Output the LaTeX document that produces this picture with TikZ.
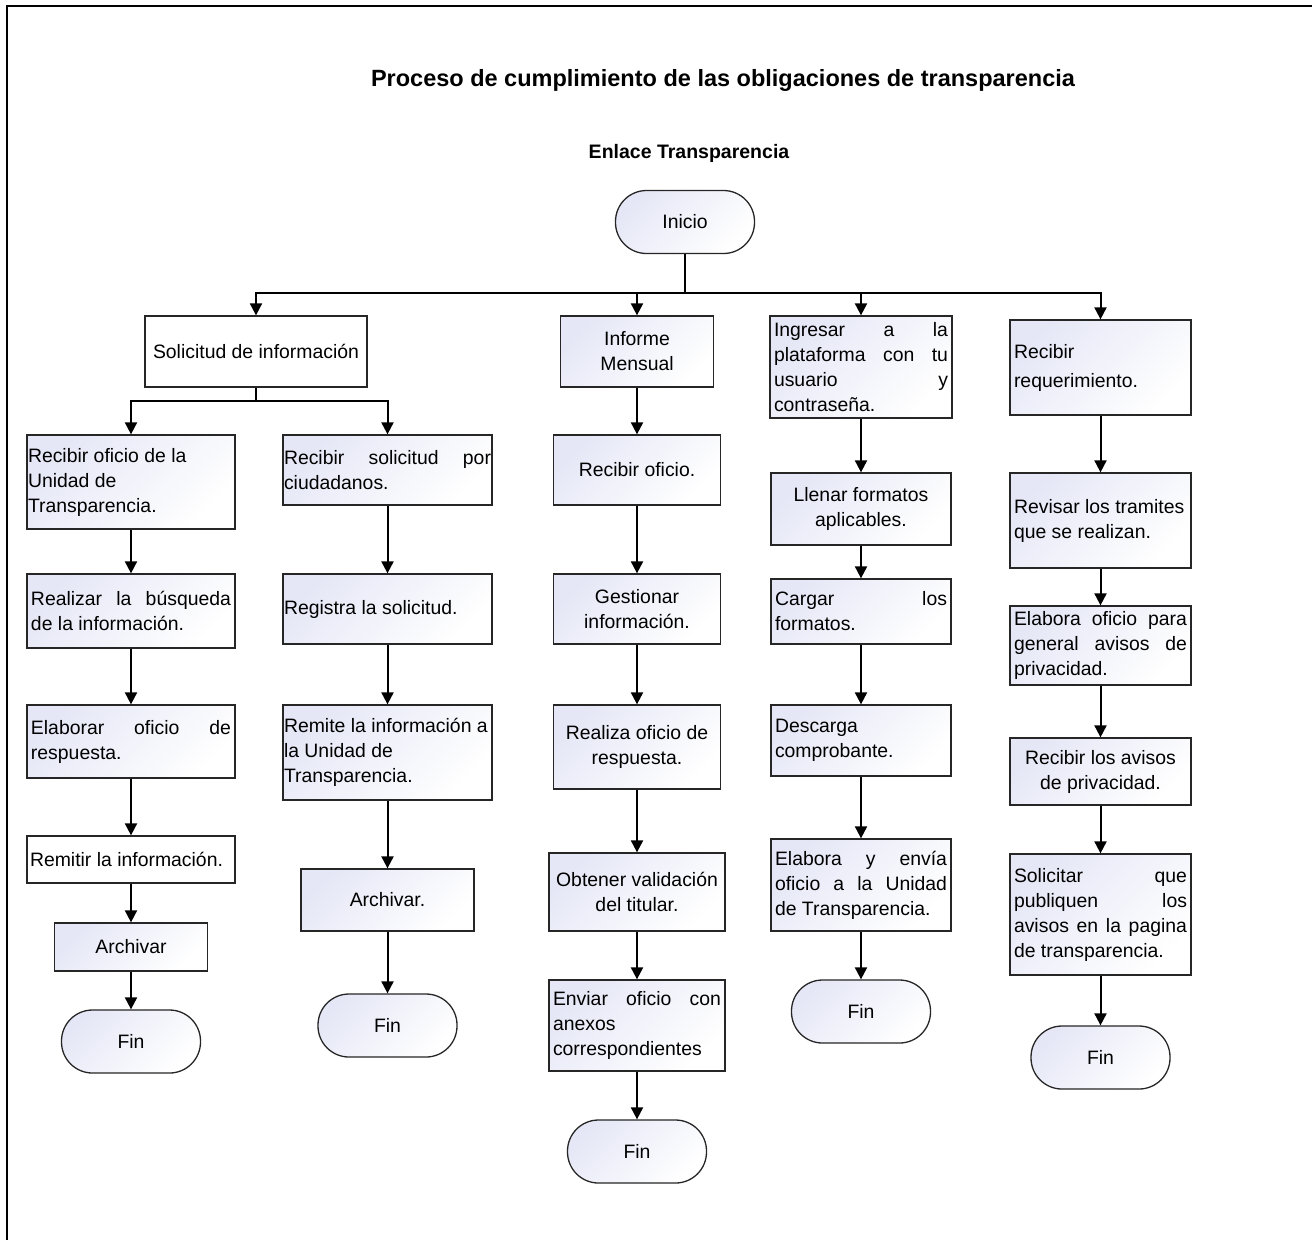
\documentclass[tikz,border=0pt]{standalone}
\usepackage{fontspec}
\setmainfont{Liberation Sans}
\usetikzlibrary{arrows.meta}
\definecolor{boxfill}{RGB}{229,231,246}
\newcommand\bodyfont{\fontsize{9.7pt}{12.5pt}\selectfont}
\newcommand\jl[1]{\makebox[\hsize][s]{#1}}

\begin{document}
\begin{tikzpicture}[x=0.5pt,y=-0.5pt,
        boxline/.style={draw=black!85,line width=0.65pt,inner xsep=2pt,inner ysep=0pt,font=\bodyfont},
        proc/.style={boxline,top color=boxfill,bottom color=white,shading angle=45},
        plainbox/.style={boxline,fill=white},
        term/.style={proc,rounded corners=15.5pt,minimum width=69.5pt,minimum height=31.5pt},
        link/.style={line width=1pt,-{Triangle[length=6pt,width=6pt]}}]
        \useasboundingbox (0,0) rectangle (1312,1239);
        \draw[line width=1.2pt] (7,1260) -- (7,6) -- (1330,6);
        \node[font=\fontsize{11.75pt}{14pt}\selectfont\bfseries] (title) at (723,80) {Proceso de cumplimiento de las obligaciones de transparencia};
        \node[font=\fontsize{9.75pt}{12pt}\selectfont\bfseries] (lane) at (689,153) {Enlace Transparencia};
        % inicio y primer nivel
        \node[term] (inicio) at (685,222) {Inicio};
        \node[plainbox,text width=107pt,minimum height=35.5pt,align=flush center] (sol) at (256,351.5) {Solicitud de información};
        \node[proc,text width=72.5pt,minimum height=35.5pt,align=flush center] (c0) at (637,351.5) {Informe\\Mensual};
        \node[proc,text width=87pt,minimum height=51pt,align=flush left] (d0) at (861,367) {\jl{Ingresar a la}\\\jl{plataforma con tu}\\\jl{usuario y}\\contraseña.};
        \node[proc,text width=86.5pt,minimum height=47.5pt,align=flush left] (e0) at (1100.5,367.5) {Recibir\\[2pt]requerimiento.};
        % columna a
        \node[proc,inner xsep=0.5pt,text width=103pt,minimum height=47pt,align=flush left] (a1) at (131,482) {Recibir oficio de la\\Unidad de\\Transparencia.};
        \node[proc,text width=100pt,minimum height=37pt,align=flush left] (a2) at (131,611) {\jl{Realizar la búsqueda}\\de la información.};
        \node[proc,text width=100pt,minimum height=36.5pt,align=flush left] (a3) at (131,741.5) {\jl{Elaborar oficio de}\\respuesta.};
        \node[plainbox,inner xsep=1.5pt,text width=101pt,minimum height=23.5pt,align=flush left] (a4) at (131,859.5) {Remitir la información.};
        \node[proc,text width=72.5pt,minimum height=24pt,align=flush center] (a5) at (131,947) {Archivar};
        \node[term] (a6) at (131,1041.5) {Fin};
        % columna b
        \node[proc,inner xsep=0.5pt,text width=103.5pt,minimum height=35pt,align=flush left] (b1) at (387.5,470) {\jl{Recibir solicitud por}\\ciudadanos.};
        \node[proc,inner xsep=0.5pt,text width=103.5pt,minimum height=35pt,align=flush left] (b2) at (387.5,609) {Registra la solicitud.};
        \node[proc,inner xsep=0.5pt,text width=103.5pt,minimum height=47.5pt,align=flush left] (b3) at (387.5,752.5) {Remite la información a\\la Unidad de\\Transparencia.};
        \node[proc,text width=82.5pt,minimum height=31pt,align=flush center] (b4) at (387.5,900) {Archivar.};
        \node[term] (b5) at (387.5,1025.5) {Fin};
        % columna c
        \node[proc,text width=79.5pt,minimum height=35pt,align=flush center] (c1) at (637,470) {Recibir oficio.};
        \node[proc,text width=79.5pt,minimum height=35pt,align=flush center] (c2) at (637,609) {Gestionar\\información.};
        \node[proc,text width=79.5pt,minimum height=42pt,align=flush center] (c3) at (637,747) {Realiza oficio de\\respuesta.};
        \node[proc,text width=84pt,minimum height=39pt,align=flush center] (c4) at (637,892) {Obtener validación\\del titular.};
        \node[proc,text width=84pt,minimum height=45.5pt,align=flush left] (c5) at (637,1025.5) {\jl{Enviar oficio con}\\anexos\\correspondientes};
        \node[term] (c6) at (637,1151.5) {Fin};
        % columna d
        \node[proc,text width=86pt,minimum height=36pt,align=flush center] (d1) at (861,509) {Llenar formatos\\aplicables.};
        \node[proc,text width=86pt,minimum height=32.5pt,align=flush left] (d2) at (861,611.5) {\jl{Cargar los}\\formatos.};
        \node[proc,text width=86pt,minimum height=35.5pt,align=flush left] (d3) at (861,740.5) {Descarga\\comprobante.};
        \node[proc,text width=86pt,minimum height=46pt,align=flush left] (d4) at (861,885) {\jl{Elabora y envía}\\\jl{oficio a la Unidad}\\de Transparencia.};
        \node[term] (d5) at (861,1011.5) {Fin};
        % columna e
        \node[proc,text width=86.5pt,minimum height=47.5pt,align=flush left] (e1) at (1100.5,520.5) {Revisar los tramites\\que se realizan.};
        \node[proc,text width=86.5pt,minimum height=39.5pt,align=flush left] (e2) at (1100.5,645.5) {\jl{Elabora oficio para}\\\jl{general avisos de}\\privacidad.};
        \node[proc,text width=86.5pt,minimum height=33.5pt,align=flush center] (e3) at (1100.5,771.5) {Recibir los avisos\\de privacidad.};
        \node[proc,text width=86.5pt,minimum height=60.5pt,align=flush left] (e4) at (1100.5,914.5) {\jl{Solicitar que}\\\jl{publiquen los}\\\jl{avisos en la pagina}\\de transparencia.};
        \node[term] (e5) at (1100.5,1057.5) {Fin};
        % conectores
        \coordinate (bus) at (685,293);
        \coordinate (solbus) at (256,401);
        \draw[link] (inicio.south) -- (inicio.south |- bus) -| (sol.north);
        \draw[link] (inicio.south) -- (inicio.south |- bus) -| (c0.north);
        \draw[link] (inicio.south) -- (inicio.south |- bus) -| (d0.north);
        \draw[link] (inicio.south) -- (inicio.south |- bus) -| (e0.north);
        \draw[link] (sol.south) -- (sol.south |- solbus) -| (a1.north);
        \draw[link] (sol.south) -- (sol.south |- solbus) -| (b1.north);
        \draw[link] (a1) -- (a2);
        \draw[link] (a2) -- (a3);
        \draw[link] (a3) -- (a4);
        \draw[link] (a4) -- (a5);
        \draw[link] (a5) -- (a6);
        \draw[link] (b1) -- (b2);
        \draw[link] (b2) -- (b3);
        \draw[link] (b3) -- (b4);
        \draw[link] (b4) -- (b5);
        \draw[link] (c0) -- (c1);
        \draw[link] (c1) -- (c2);
        \draw[link] (c2) -- (c3);
        \draw[link] (c3) -- (c4);
        \draw[link] (c4) -- (c5);
        \draw[link] (c5) -- (c6);
        \draw[link] (d0) -- (d1);
        \draw[link] (d1) -- (d2);
        \draw[link] (d2) -- (d3);
        \draw[link] (d3) -- (d4);
        \draw[link] (d4) -- (d5);
        \draw[link] (e0) -- (e1);
        \draw[link] (e1) -- (e2);
        \draw[link] (e2) -- (e3);
        \draw[link] (e3) -- (e4);
        \draw[link] (e4) -- (e5);
\end{tikzpicture}
\end{document}
